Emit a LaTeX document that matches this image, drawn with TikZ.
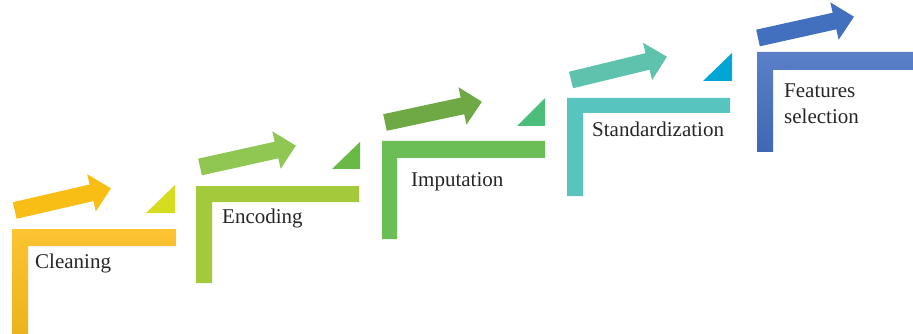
\documentclass[tikz,border=0pt]{standalone}
\usepackage{fontspec}
\setmainfont{Liberation Serif}
\usepackage{xcolor}
\usetikzlibrary{arrows.meta}

\definecolor{cleanL}{HTML}{FCC332}
\definecolor{cleanD}{HTML}{EBB41C}
\definecolor{cleanA}{HTML}{F9BE15}
\definecolor{cleanT}{HTML}{D6DC1F}
\definecolor{encL}{HTML}{A4CA3B}
\definecolor{encA}{HTML}{8FC752}
\definecolor{encT}{HTML}{69BA45}
\definecolor{impL}{HTML}{6BBD56}
\definecolor{impA}{HTML}{6EA945}
\definecolor{impT}{HTML}{4DBD7C}
\definecolor{stdL}{HTML}{57C4BF}
\definecolor{stdA}{HTML}{5EC2AD}
\definecolor{stdT}{HTML}{00A7D4}
\definecolor{featL}{HTML}{5A80C8}
\definecolor{featD}{HTML}{3F67B3}
\definecolor{featA}{HTML}{4270BE}

\begin{document}
\begin{tikzpicture}[x=1pt, y=-1pt,
    fatarrow/.style={line width=17pt, -{Triangle[length=20pt, width=37pt]}},
    label/.style={anchor=base west, inner sep=0pt, align=left, font=\fontsize{21}{26}\selectfont, text=black!85}]
    \useasboundingbox (0,0) rectangle (913,334);
    % step 1: cleaning
    \shade[top color=cleanL, bottom color=cleanD] (12,229) -- (176,229) -- (176,246) -- (28,246) -- (28,334) -- (12,334) -- cycle;
    \fill[cleanT] (146,213) -- (175,185) -- (175,213) -- cycle;
    \coordinate (tail1) at (14.7,210.5);
    \coordinate (tip1) at (111,188.3);
    \draw[fatarrow, cleanA] (tail1) -- (tip1);
    \node[label] (clean) at (35,268) {Cleaning};
    % step 2: encoding
    \fill[encL] (196,186) -- (359,186) -- (359,202) -- (212,202) -- (212,283) -- (196,283) -- cycle;
    \fill[encT] (332,169) -- (360,142) -- (360,169) -- cycle;
    \coordinate (tail2) at (200,167);
    \coordinate (tip2) at (296,145.7);
    \draw[fatarrow, encA] (tail2) -- (tip2);
    \node[label] (enc) at (222,223) {Encoding};
    % step 3: imputation
    \fill[impL] (382,141) -- (545,141) -- (545,158) -- (397,158) -- (397,239) -- (382,239) -- cycle;
    \fill[impT] (517,126) -- (545,98) -- (545,126) -- cycle;
    \coordinate (tail3) at (385,122.5);
    \coordinate (tip3) at (482,101.7);
    \draw[fatarrow, impA] (tail3) -- (tip3);
    \node[label] (imp) at (411,186) {Imputation};
    % step 4: standardization
    \fill[stdL] (567,98) -- (730,98) -- (730,113) -- (583,113) -- (583,196) -- (567,196) -- cycle;
    \fill[stdT] (703,81) -- (732,53) -- (732,81) -- cycle;
    \coordinate (tail4) at (571,80);
    \coordinate (tip4) at (667,56.7);
    \draw[fatarrow, stdA] (tail4) -- (tip4);
    \node[label] (std) at (592,137) {Standardization};
    % step 5: features selection
    \shade[top color=featL, bottom color=featD] (757,52) -- (913,52) -- (913,70) -- (773,70) -- (773,152) -- (757,152) -- cycle;
    \coordinate (tail5) at (758,38);
    \coordinate (tip5) at (854,16.7);
    \draw[fatarrow, featA] (tail5) -- (tip5);
    \node[label] (feat) at (784,124) {Features\\selection};
\end{tikzpicture}
\end{document}
